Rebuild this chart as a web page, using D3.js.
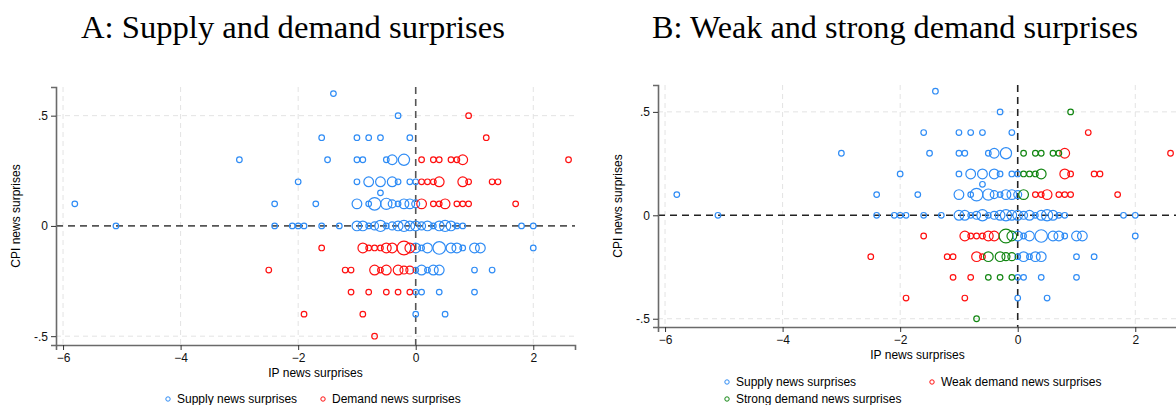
<!DOCTYPE html>
<html>
<head>
<meta charset="utf-8">
<script src="https://cdn.jsdelivr.net/npm/d3@7"></script>
<style>
  body { margin: 0; background: #fff; }
  svg { display: block; }
</style>
</head>
<body>
<svg id="chart" width="1176" height="405"></svg>
<script>
// [IP surprise, CPI surprise, count]
var supply = [
  [-1.4, 0.6, 1],
  [-0.3, 0.5, 1],
  [-1.6, 0.4, 1], [-1.0, 0.4, 1], [-0.8, 0.4, 1], [-0.6, 0.4, 1], [-0.1, 0.4, 1],
  [-3.0, 0.3, 1], [-1.5, 0.3, 1], [-1.0, 0.3, 1], [-0.9, 0.3, 1], [-0.5, 0.3, 1], [-0.4, 0.3, 3], [-0.2, 0.3, 4],
  [-2.0, 0.2, 1], [-1.0, 0.2, 1], [-0.8, 0.2, 3], [-0.6, 0.2, 3], [-0.4, 0.2, 3], [-0.3, 0.2, 1], [-0.1, 0.2, 1], [0.0, 0.2, 1],
  [-0.6, 0.15, 1],
  [-5.8, 0.1, 1], [-2.4, 0.1, 1], [-1.7, 0.1, 1], [-1.0, 0.1, 3], [-0.8, 0.1, 1], [-0.7, 0.1, 5], [-0.5, 0.1, 4],
  [-0.4, 0.1, 2], [-0.3, 0.1, 1], [-0.2, 0.1, 3], [-0.1, 0.1, 3], [0.0, 0.1, 2],
  [-5.1, 0, 1], [-2.4, 0, 1], [-2.1, 0, 1], [-2.0, 0, 1], [-1.9, 0, 1], [-1.6, 0, 1], [-1.3, 0, 1], [-1.0, 0, 3],
  [-0.9, 0, 3], [-0.8, 0, 1], [-0.7, 0, 2], [-0.6, 0, 4], [-0.5, 0, 1], [-0.4, 0, 2], [-0.3, 0, 3], [-0.2, 0, 4],
  [-0.1, 0, 3], [0.0, 0, 3], [0.1, 0, 2], [0.2, 0, 3], [0.3, 0, 1], [0.4, 0, 3], [0.5, 0, 4], [0.6, 0, 3],
  [0.7, 0, 1], [0.8, 0, 1], [1.8, 0, 1], [2.0, 0, 1],
  [0.0, -0.1, 3], [0.1, -0.1, 1], [0.2, -0.1, 3], [0.4, -0.1, 5], [0.6, -0.1, 3], [0.7, -0.1, 3], [0.8, -0.1, 1],
  [1.0, -0.1, 3], [1.1, -0.1, 3], [2.0, -0.1, 1],
  [0.0, -0.2, 1], [0.1, -0.2, 3], [0.2, -0.2, 1], [0.3, -0.2, 3], [0.4, -0.2, 3], [1.0, -0.2, 1], [1.3, -0.2, 1],
  [0.0, -0.3, 1], [0.1, -0.3, 1], [0.4, -0.3, 1], [1.0, -0.3, 1],
  [0.0, -0.4, 1], [0.5, -0.4, 1]
];

var weakDemand = [
  [1.2, 0.4, 1],
  [0.8, 0.3, 3], [2.6, 0.3, 1],
  [0.8, 0.2, 3], [0.9, 0.2, 1], [1.3, 0.2, 1], [1.4, 0.2, 1],
  [0.3, 0.1, 1], [0.4, 0.1, 1], [0.5, 0.1, 3], [0.7, 0.1, 1], [0.8, 0.1, 1], [0.9, 0.1, 1], [1.7, 0.1, 1],
  [-1.6, -0.1, 1], [-0.9, -0.1, 3], [-0.8, -0.1, 1], [-0.7, -0.1, 1], [-0.6, -0.1, 1], [-0.5, -0.1, 3], [-0.4, -0.1, 3],
  [-2.5, -0.2, 1], [-1.2, -0.2, 1], [-1.1, -0.2, 1], [-0.7, -0.2, 3], [-0.6, -0.2, 1],
  [-1.1, -0.3, 1], [-0.8, -0.3, 1],
  [-1.9, -0.4, 1], [-0.9, -0.4, 1]
];

var strongDemand = [
  [0.9, 0.5, 1],
  [0.1, 0.3, 1], [0.3, 0.3, 1], [0.4, 0.3, 1], [0.6, 0.3, 1], [0.7, 0.3, 1],
  [0.1, 0.2, 1], [0.2, 0.2, 1], [0.3, 0.2, 1], [0.4, 0.2, 3],
  [0.1, 0.1, 3],
  [-0.2, -0.1, 6], [-0.1, -0.1, 3],
  [-0.5, -0.2, 3], [-0.3, -0.2, 3], [-0.2, -0.2, 2], [-0.1, -0.2, 2],
  [-0.5, -0.3, 1], [-0.3, -0.3, 1], [-0.1, -0.3, 1],
  [-0.7, -0.5, 1]
];

var xTicks = [-6, -4, -2, 0, 2];
var yTicks = [-0.5, 0, 0.5];
var yTickLabels = ["-.5", "0", ".5"];

var blue = "#2f8cf5", red = "#ff1010", green = "#128612";
var svg = d3.select("#chart");
var r = d3.scaleSqrt().domain([0, 1]).range([0, 2.8]);

function panel(opt) {
  var x = d3.scaleLinear().domain([-6.12, 2.71]).range([opt.left, opt.right]);
  var y = d3.scaleLinear().domain([-0.54, 0.63]).range([opt.bottom, opt.top]);
  var g = svg.append("g");

  // title
  g.append("text")
    .attr("x", opt.titleX).attr("y", 38)
    .attr("text-anchor", "middle")
    .attr("textLength", opt.titleW).attr("lengthAdjust", "spacingAndGlyphs")
    .style("font-family", "'Liberation Serif', serif")
    .style("font-size", "31px")
    .text(opt.title);

  // grid
  g.selectAll(".gx").data(xTicks.filter(function (d) { return d != 0; }))
    .enter().append("line")
    .attr("x1", function (d) { return x(d); }).attr("x2", function (d) { return x(d); })
    .attr("y1", opt.top).attr("y2", opt.bottom)
    .attr("stroke", "#e3e3e3").attr("stroke-dasharray", "5,4");
  g.selectAll(".gy").data(yTicks.filter(function (d) { return d != 0; }))
    .enter().append("line")
    .attr("x1", opt.left).attr("x2", opt.right)
    .attr("y1", function (d) { return y(d); }).attr("y2", function (d) { return y(d); })
    .attr("stroke", "#e3e3e3").attr("stroke-dasharray", "5,4");

  // zero lines
  g.append("line").attr("x1", opt.left).attr("x2", opt.right)
    .attr("y1", y(0)).attr("y2", y(0))
    .attr("stroke", opt.zeroColor).attr("stroke-width", 1.6).attr("stroke-dasharray", "7,5");
  g.append("line").attr("x1", x(0)).attr("x2", x(0))
    .attr("y1", opt.top).attr("y2", opt.bottom)
    .attr("stroke", opt.zeroColor).attr("stroke-width", 1.6).attr("stroke-dasharray", "7,5");

  // points
  opt.series.forEach(function (s) {
    g.selectAll(null).data(s.data).enter().append("circle")
      .attr("cx", function (d) { return x(d[0]); })
      .attr("cy", function (d) { return y(d[1]); })
      .attr("r", function (d) { return r(d[2]); })
      .attr("fill", "none")
      .attr("stroke", s.color)
      .attr("stroke-width", 1.2);
  });

  // axes
  var ax = g.append("g").attr("transform", "translate(0," + opt.bottom + ")")
    .call(d3.axisBottom(x).tickValues(xTicks).tickSize(5).tickPadding(3).tickFormat(d3.format("d")));
  var ay = g.append("g").attr("transform", "translate(" + opt.left + ",0)")
    .call(d3.axisLeft(y).tickValues(yTicks).tickSize(5).tickPadding(3)
      .tickFormat(function (d, i) { return yTickLabels[i]; }));
  [ax, ay].forEach(function (a) {
    a.select(".domain").attr("stroke", "#6a6a6a").attr("stroke-width", 1.6);
    a.selectAll(".tick line").attr("stroke", "#333");
    a.selectAll("text").style("font-family", "'Liberation Sans', Arial, sans-serif")
      .style("font-size", "12px").attr("fill", "#111");
  });

  // axis titles
  g.append("text")
    .attr("x", (opt.left + opt.right) / 2).attr("y", opt.bottom + 32)
    .attr("text-anchor", "middle")
    .style("font-family", "'Liberation Sans', Arial, sans-serif").style("font-size", "12px")
    .text("IP news surprises");
  g.append("text")
    .attr("transform", "translate(" + opt.yTitleX + "," + (opt.top + opt.bottom) / 2 + ") rotate(-90)")
    .attr("text-anchor", "middle")
    .style("font-family", "'Liberation Sans', Arial, sans-serif").style("font-size", "12px")
    .text("CPI news surprises");

  // legend
  opt.legend.forEach(function (l) {
    g.append("circle").attr("cx", l.x).attr("cy", l.y - 4).attr("r", 2.2)
      .attr("fill", "none").attr("stroke", l.color).attr("stroke-width", 1);
    g.append("text").attr("x", l.x + 9).attr("y", l.y)
      .style("font-family", "'Liberation Sans', Arial, sans-serif").style("font-size", "12px")
      .text(l.label);
  });
}

panel({
  title: "A: Supply and demand surprises", titleX: 293, titleW: 424,
  left: 56, right: 575, top: 87, bottom: 345, yTitleX: 20, zeroColor: "#555",
  series: [
    { data: supply, color: blue },
    { data: weakDemand.concat(strongDemand), color: red }
  ],
  legend: [
    { x: 168, y: 403, color: blue, label: "Supply news surprises" },
    { x: 323, y: 403, color: red, label: "Demand news surprises" }
  ]
});

panel({
  title: "B: Weak and strong demand surprises", titleX: 895, titleW: 486,
  left: 658, right: 1177, top: 85, bottom: 327, yTitleX: 622, zeroColor: "#222",
  series: [
    { data: supply, color: blue },
    { data: weakDemand, color: red },
    { data: strongDemand, color: green }
  ],
  legend: [
    { x: 727, y: 386, color: blue, label: "Supply news surprises" },
    { x: 932, y: 386, color: red, label: "Weak demand news surprises" },
    { x: 727, y: 403, color: green, label: "Strong demand news surprises" }
  ]
});
</script>
</body>
</html>
